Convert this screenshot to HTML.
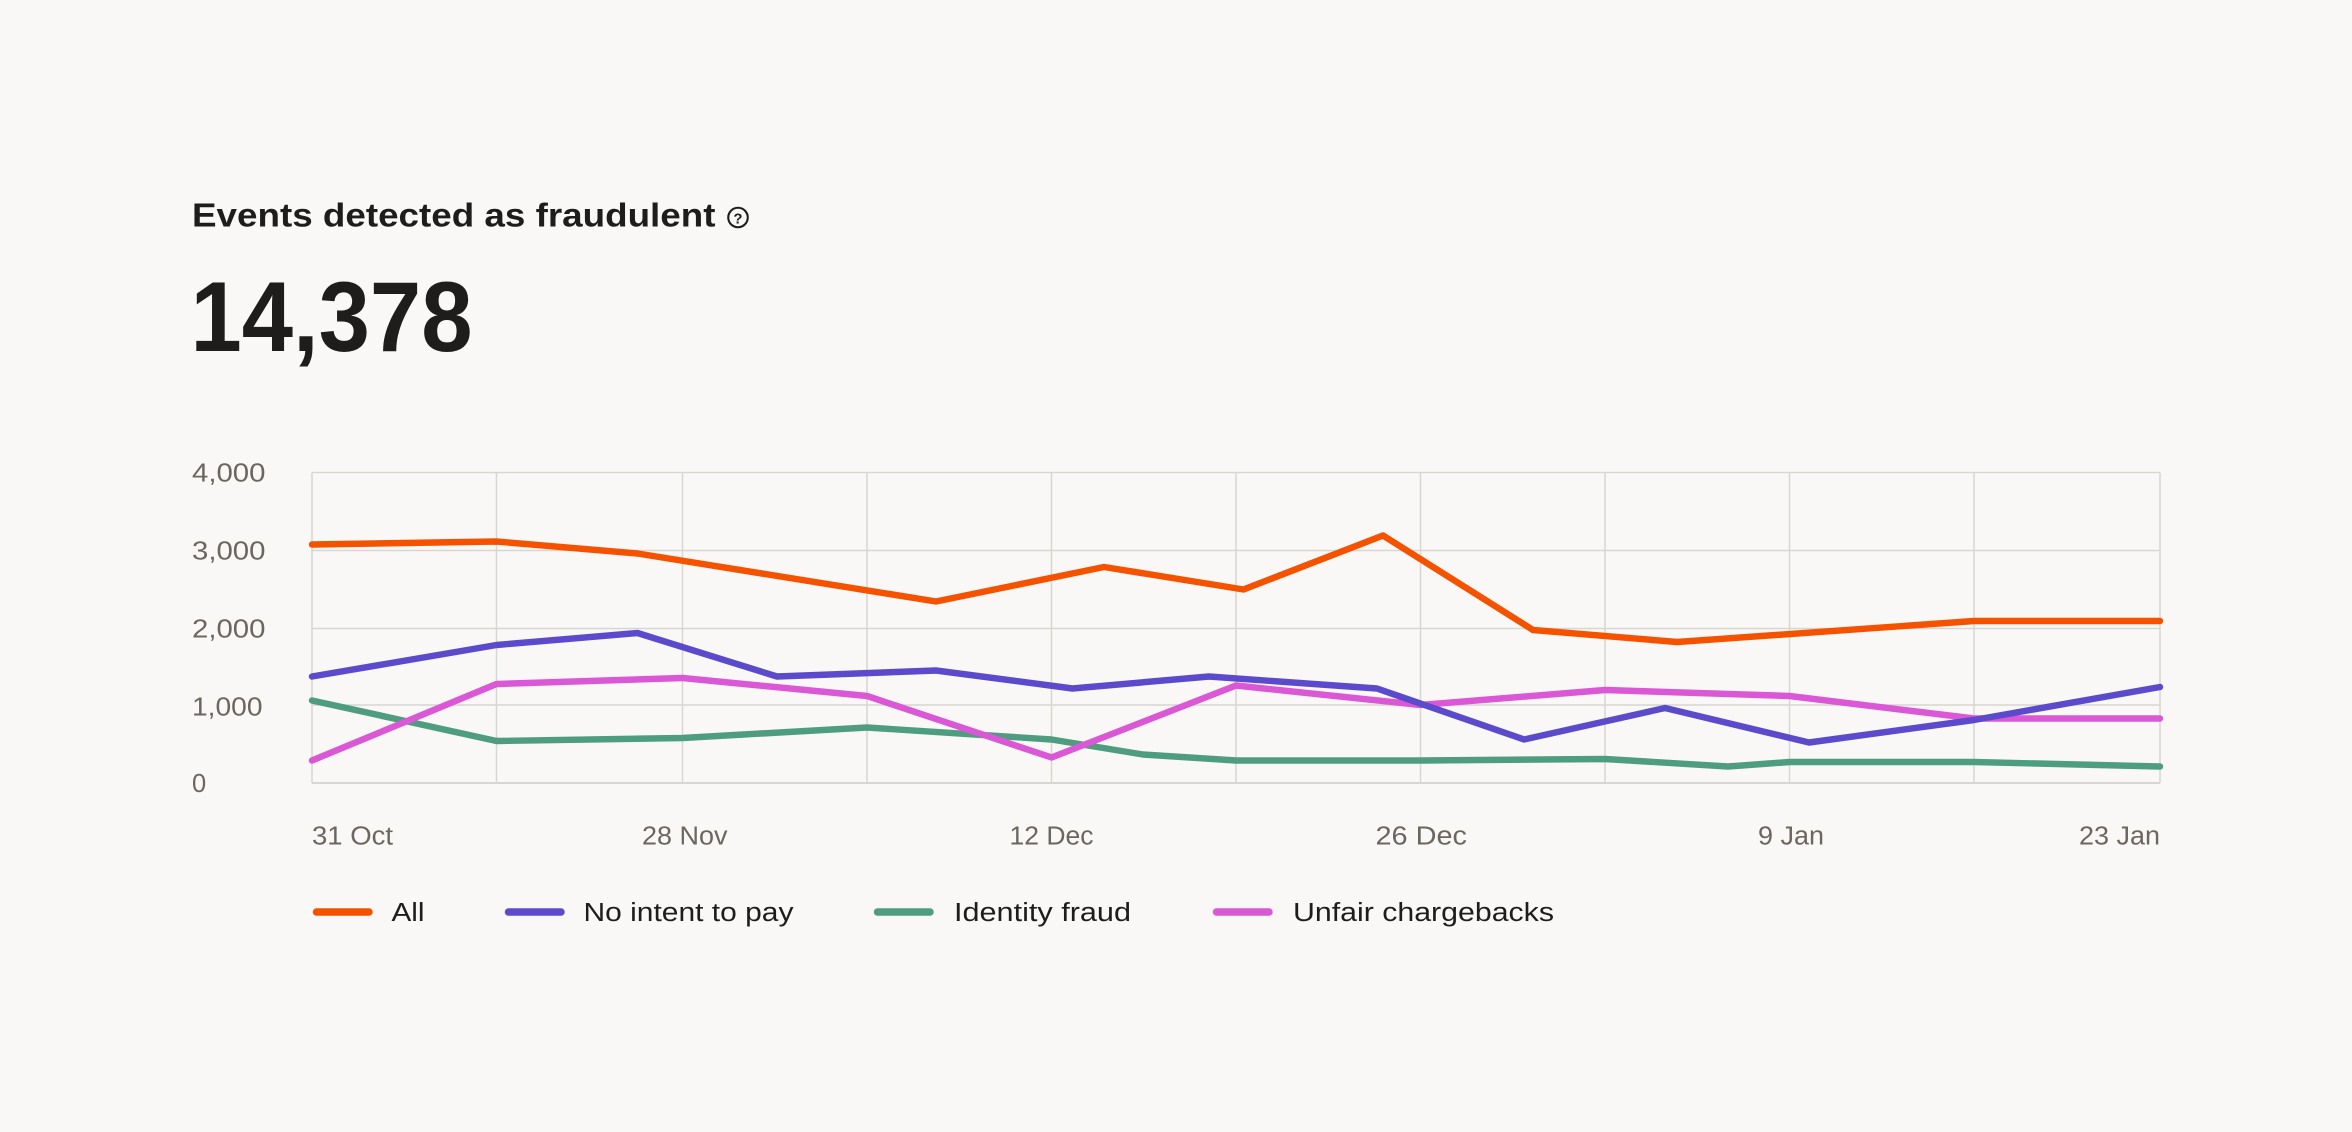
<!DOCTYPE html>
<html><head><meta charset="utf-8"><style>
html,body{margin:0;padding:0;background:#f9f8f6;}
svg{display:block;}
text{font-family:"Liberation Sans",sans-serif;}
</style></head><body>
<svg width="2352" height="1132" viewBox="0 0 1568 754.67" xmlns="http://www.w3.org/2000/svg">
<rect width="1568" height="755" fill="#f9f8f6"/>
<text x="128" y="151" font-size="22" font-weight="700" fill="#1e1d1b" textLength="349" lengthAdjust="spacingAndGlyphs">Events detected as fraudulent</text>
<circle cx="492" cy="145" r="6.5" fill="none" stroke="#1e1d1b" stroke-width="1.4"/>
<text x="492" y="149" font-size="10" font-weight="700" text-anchor="middle" fill="#1e1d1b">?</text>
<text x="127" y="234" font-size="66" font-weight="700" fill="#1e1d1b" textLength="188" lengthAdjust="spacingAndGlyphs">14,378</text>
<g stroke="#d8d6d2" stroke-width="1">
<line x1="208" y1="315" x2="1440" y2="315"/>
<line x1="208" y1="367" x2="1440" y2="367"/>
<line x1="208" y1="419" x2="1440" y2="419"/>
<line x1="208" y1="470" x2="1440" y2="470"/>
<line x1="208" y1="522" x2="1440" y2="522" stroke-width="1.3"/>
<line x1="208" y1="315" x2="208" y2="522"/><line x1="331" y1="315" x2="331" y2="522"/><line x1="455" y1="315" x2="455" y2="522"/><line x1="578" y1="315" x2="578" y2="522"/><line x1="701" y1="315" x2="701" y2="522"/><line x1="824" y1="315" x2="824" y2="522"/><line x1="947" y1="315" x2="947" y2="522"/><line x1="1070" y1="315" x2="1070" y2="522"/><line x1="1193" y1="315" x2="1193" y2="522"/><line x1="1316" y1="315" x2="1316" y2="522"/><line x1="1440" y1="315" x2="1440" y2="522"/>
</g>
<g font-size="17" fill="#6b6660">
<text x="128" y="321" textLength="49" lengthAdjust="spacingAndGlyphs">4,000</text>
<text x="128" y="373" textLength="49" lengthAdjust="spacingAndGlyphs">3,000</text>
<text x="128" y="425" textLength="49" lengthAdjust="spacingAndGlyphs">2,000</text>
<text x="128" y="477" textLength="47" lengthAdjust="spacingAndGlyphs">1,000</text>
<text x="128" y="528">0</text>
</g>
<g font-size="17" fill="#6b6660">
<text x="208" y="563" textLength="54" lengthAdjust="spacingAndGlyphs">31 Oct</text>
<text x="428" y="563" textLength="57" lengthAdjust="spacingAndGlyphs">28 Nov</text>
<text x="673" y="563" textLength="56" lengthAdjust="spacingAndGlyphs">12 Dec</text>
<text x="917" y="563" textLength="61" lengthAdjust="spacingAndGlyphs">26 Dec</text>
<text x="1172" y="563" textLength="44" lengthAdjust="spacingAndGlyphs">9 Jan</text>
<text x="1386" y="563" textLength="54" lengthAdjust="spacingAndGlyphs">23 Jan</text>
</g>
<g fill="none" stroke-width="4.3" stroke-linejoin="round" stroke-linecap="round">
<polyline stroke="#4e9d80" points="208,467 331,494 455,492 578,485 701,493 762,503 824,507 947,507 1070,506 1152,511 1193,508 1316,508 1440,511"/>
<polyline stroke="#da58d6" points="208,507 331,456 455,452 578,464 701,505 824,457 947,470 1070,460 1193,464 1316,479 1440,479"/>
<polyline stroke="#5b4acb" points="208,451 331,430 425,422 518,451 624,447 715,459 806,451 918,459 1016,493 1110,472 1206,495 1316,480 1440,458"/>
<polyline stroke="#f55200" points="208,363 331,361 425,369 624,401 736,378 829,393 922,357 1022,420 1118,428 1316,414 1440,414"/>
</g>
<g stroke-width="5" stroke-linecap="round">
<line x1="211" y1="608" x2="246" y2="608" stroke="#f55200"/>
<line x1="339" y1="608" x2="374" y2="608" stroke="#5b4acb"/>
<line x1="585" y1="608" x2="620" y2="608" stroke="#4e9d80"/>
<line x1="811" y1="608" x2="846" y2="608" stroke="#da58d6"/>
</g>
<g font-size="17" fill="#1e1d1b">
<text x="261" y="614" textLength="22" lengthAdjust="spacingAndGlyphs">All</text>
<text x="389" y="614" textLength="140" lengthAdjust="spacingAndGlyphs">No intent to pay</text>
<text x="636" y="614" textLength="118" lengthAdjust="spacingAndGlyphs">Identity fraud</text>
<text x="862" y="614" textLength="174" lengthAdjust="spacingAndGlyphs">Unfair chargebacks</text>
</g>
</svg>
</body></html>
